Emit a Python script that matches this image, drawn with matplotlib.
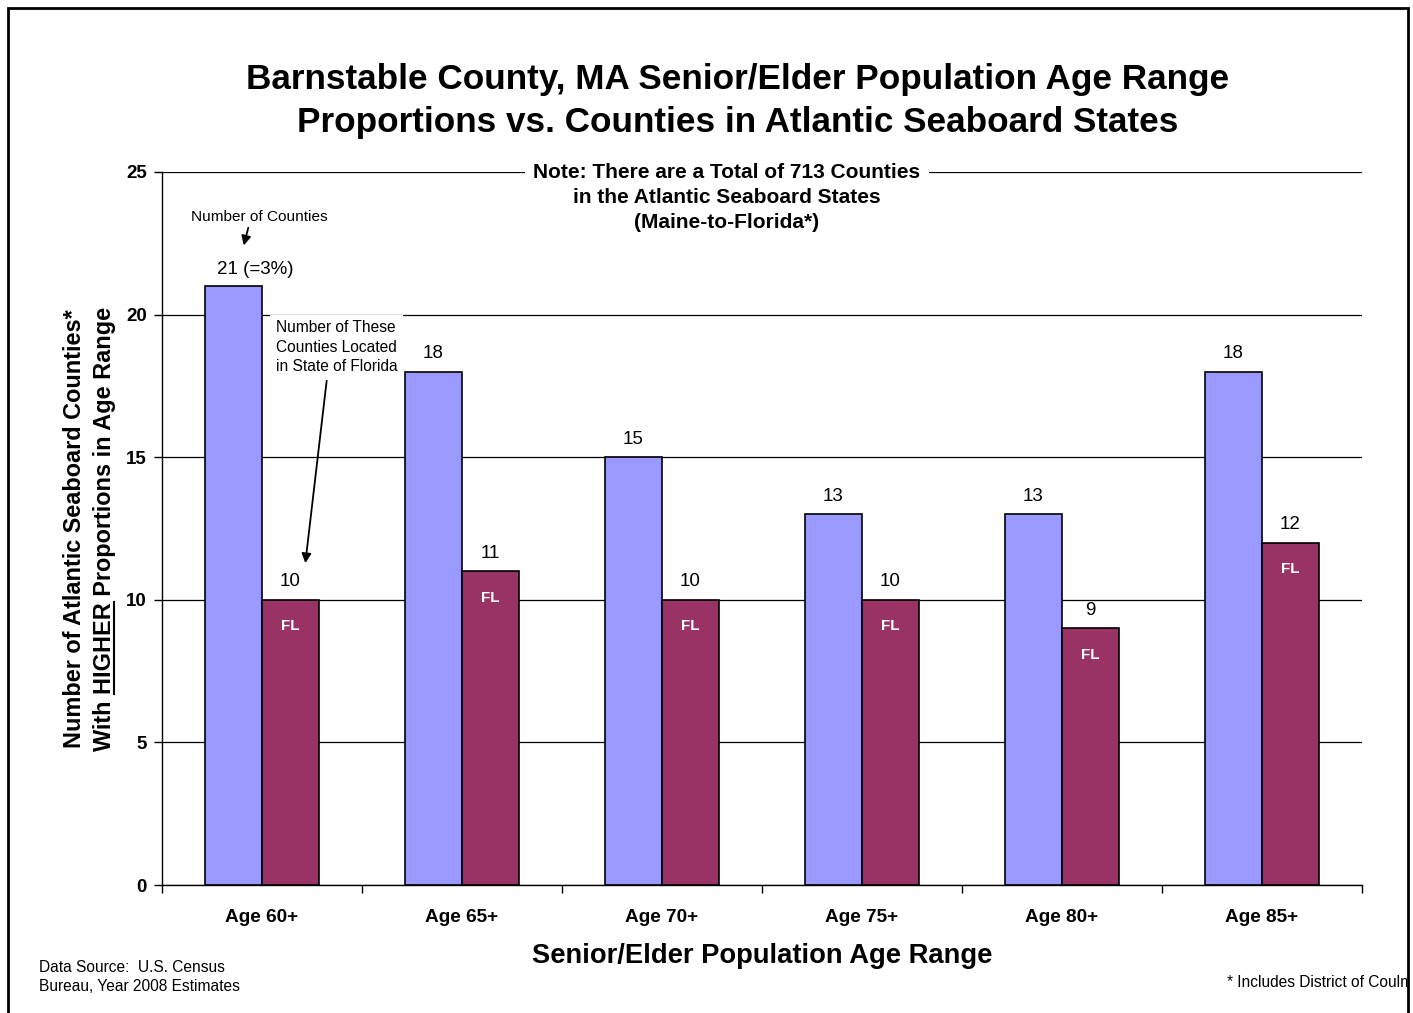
import matplotlib
matplotlib.use("Agg")
import matplotlib.pyplot as plt
import numpy as np
from matplotlib.patches import Rectangle
from matplotlib.transforms import Bbox, TransformedBbox

plt.rcParams["font.family"] = ["Liberation Sans", "DejaVu Sans"]

# data
age_ranges = ["Age 60+", "Age 65+", "Age 70+", "Age 75+", "Age 80+", "Age 85+"]
all_counties = [21, 18, 15, 13, 13, 18]
florida_counties = [10, 11, 10, 10, 9, 12]
yticks = [0, 5, 10, 15, 20, 25]

blue = "#9999FF"
plum = "#993366"

fig = plt.figure(figsize=(14.13, 10.13), dpi=100)
ax = fig.add_axes([162 / 1413, 1 - 885 / 1013, 1200 / 1413, 713 / 1013])

x = np.arange(len(age_ranges))
w = 0.285
bars_all = ax.bar(x - w / 2, all_counties, w, color=blue, edgecolor="black", linewidth=1.2, zorder=2)
bars_fl = ax.bar(x + w / 2, florida_counties, w, color=plum, edgecolor="black", linewidth=1.2, zorder=2)

ax.set_xlim(-0.5, len(age_ranges) - 0.5)
ax.set_ylim(0, 25)
ax.set_yticks(yticks)
ax.set_yticklabels([str(t) for t in yticks], fontsize=13.5, fontweight="bold")
ax.set_xticks(x)
ax.set_xticklabels(age_ranges, fontsize=13.7, fontweight="bold")
ax.tick_params(axis="x", which="major", length=0, pad=17)
ax.set_xticks(np.arange(-0.5, len(age_ranges)), minor=True)
ax.tick_params(axis="x", which="minor", length=6, width=1, color="black")
ax.tick_params(axis="y", length=6, width=1, pad=5)
ax.grid(axis="y", color="black", linewidth=0.9, zorder=0)
ax.set_axisbelow(True)
for s in ["top", "right"]:
    ax.spines[s].set_visible(False)
ax.spines["left"].set_linewidth(1)
ax.spines["bottom"].set_linewidth(1)

# value labels
for i, b in enumerate(bars_all):
    if i == 0:
        continue
    ax.annotate(str(all_counties[i]), (b.get_x() + b.get_width() / 2, b.get_height()),
                xytext=(0, 13), textcoords="offset points", ha="center", va="center", fontsize=13.5)
ax.text(-0.035, 21.57, "21 (=3%)", ha="center", va="center", fontsize=13.5)
for i, b in enumerate(bars_fl):
    cx = b.get_x() + b.get_width() / 2
    ax.annotate(str(florida_counties[i]), (cx, b.get_height()),
                xytext=(0, 13), textcoords="offset points", ha="center", va="center", fontsize=13.5)
    ax.annotate("FL", (cx, b.get_height()), xytext=(0, -19), textcoords="offset points",
                ha="center", va="center", fontsize=11, fontweight="bold", color="white", zorder=3)

# annotations
ax.text(-0.015, 23.42, "Number of Counties", ha="center", va="center", fontsize=11.1)
ax.annotate("", xy=(-0.095, 22.33), xytext=(-0.065, 23.14),
            arrowprops=dict(arrowstyle="-|>", color="black", lw=1.3, mutation_scale=14))
ax.text(0.07, 19.8, "Number of These\nCounties Located\nin State of Florida", ha="left", va="top",
        fontsize=11.2, linespacing=1.38, zorder=5,
        bbox=dict(facecolor="white", edgecolor="none", pad=4))
ax.annotate("", xy=(0.215, 11.19), xytext=(0.325, 17.78),
            arrowprops=dict(arrowstyle="-|>", color="black", lw=1.3, mutation_scale=14))

ax.text(2.325, 24.1, "Note: There are a Total of 713 Counties\nin the Atlantic Seaboard States\n(Maine-to-Florida*)",
        ha="center", va="center", fontsize=15, fontweight="bold", linespacing=1.42, zorder=5,
        bbox=dict(facecolor="white", edgecolor="none", pad=6))

# y label with underline on HIGHER
ylab = ax.set_ylabel("Number of Atlantic Seaboard Counties*\nWith HIGHER Proportions in Age Range",
                     fontsize=16.9, fontweight="bold", labelpad=7, linespacing=1.43)

# title and other texts
fig.text(738 / 1413, 1 - 101 / 1013,
         "Barnstable County, MA Senior/Elder Population Age Range\nProportions vs. Counties in Atlantic Seaboard States",
         ha="center", va="center", fontsize=25.3, fontweight="bold", linespacing=1.36)
fig.text(762 / 1413, 1 - 956 / 1013, "Senior/Elder Population Age Range", ha="center", va="center",
         fontsize=19.7, fontweight="bold")
fig.text(39 / 1413, 1 - 977 / 1013, "Data Source:  U.S. Census\nBureau, Year 2008 Estimates",
         ha="left", va="center", fontsize=11.2, linespacing=1.31)
foot = fig.text(1227 / 1413, 1 - 982 / 1013, "* Includes District of Coulmbia", ha="left", va="center",
                fontsize=11.2)
foot.set_clip_box(TransformedBbox(Bbox.from_extents(0, 0, 1407 / 1413, 1), fig.transFigure))
foot.set_clip_on(True)

# outer frame
fig.patches.append(Rectangle((8 / 1413, -0.05), 1400 / 1413, 1.05 - 8 / 1013, transform=fig.transFigure,
                             fill=False, edgecolor="black", linewidth=2, zorder=10))

# underline "HIGHER"
fig.canvas.draw()
r = fig.canvas.get_renderer()
bb = ylab.get_window_extent(r)
fp = ylab.get_fontproperties()
def text_w(s):
    t = fig.text(0, 0, s, fontproperties=fp)
    e = t.get_window_extent(r)
    t.remove()
    return e.width
line2 = "With HIGHER Proportions in Age Range"
full = text_w(line2)
y0 = (bb.y0 + bb.y1) / 2 - full / 2
ua = y0 + text_w("With ")
ub = y0 + text_w("With HIGHER")
ux = bb.x1 - 2
fig.add_artist(plt.Line2D([ux / 1413, ux / 1413], [ua / 1013, ub / 1013], transform=fig.transFigure,
                          color="black", linewidth=1.5))

fig.savefig("out.png", dpi=100)
